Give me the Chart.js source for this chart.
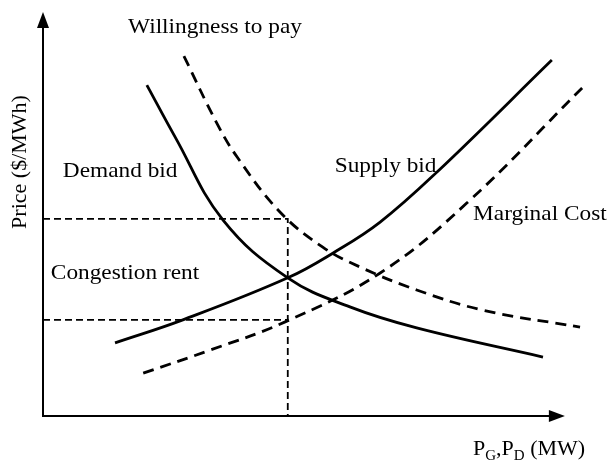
<!DOCTYPE html>
<html>
<head>
<meta charset="utf-8">
<script src="https://cdn.jsdelivr.net/npm/chart.js@4/dist/chart.umd.min.js"></script>
<style>
  html, body { margin: 0; padding: 0; background: #fff; }
  #wrap { width: 610px; height: 464px; }
</style>
</head>
<body>
<div id="wrap"><canvas id="market"></canvas></div>
<script>
// quantity (x) and price (y), arbitrary units
const demandBid = [[19.9, 81.9], [25.3, 69.1], [34.5, 48.5], [46.9, 34.2], [58.8, 27.0], [71.6, 21.8], [95.8, 14.6]];
const supplyBid = [[13.8, 18.1], [26.8, 23.8], [46.9, 34.2], [55.9, 40.6], [64.6, 48.0], [75.5, 60.4], [97.5, 88.1]];
const willingness = [[27.0, 89.1], [33.3, 72.5], [37.2, 64.1], [45.4, 50.5], [53.6, 41.8], [60.7, 36.9], [71.6, 31.2], [84.3, 26.2], [102.9, 22.0]];
const marginalCost = [[19.2, 10.6], [32.0, 16.3], [46.4, 23.3], [64.6, 35.4], [81.2, 52.7], [103.3, 81.2]];

// congestion rent box
const dispatchQ = 46.9;
const priceHigh = 48.8;
const priceLow = 23.8;

// axis extents (arrow tips)
const xAxisEnd = 100;
const yAxisEnd = 100;

const curveLabels = [
  { text: 'Willingness to pay', x: 16.3, y: 96.3 },
  { text: 'Demand bid', x: 3.8, y: 60.6 },
  { text: 'Supply bid', x: 55.9, y: 61.9 },
  { text: 'Marginal Cost', x: 82.4, y: 50.0 },
  { text: 'Congestion rent', x: 1.5, y: 35.4 },
];

const pts = (arr) => arr.map(([x, y]) => ({ x, y }));

const solid = { borderColor: '#000', borderWidth: 2.8, pointRadius: 0, tension: 0.4, fill: false };
const dashed = { ...solid, borderDash: [11, 7] };
const thin = { borderColor: '#000', borderWidth: 1.8, pointRadius: 0, tension: 0, borderDash: [7, 4], fill: false };

const font = '"Liberation Serif", "Times New Roman", serif';

const decor = {
  id: 'decor',
  afterDraw(chart) {
    const { ctx, scales } = chart;
    const xs = scales.x, ys = scales.y;
    const x0 = xs.getPixelForValue(0), y0 = ys.getPixelForValue(0);
    const xEnd = xs.getPixelForValue(xAxisEnd), yEnd = ys.getPixelForValue(yAxisEnd);
    ctx.save();
    ctx.strokeStyle = '#000';
    ctx.fillStyle = '#000';
    ctx.lineWidth = 2;
    ctx.beginPath();
    ctx.moveTo(x0, yEnd + 12);
    ctx.lineTo(x0, y0);
    ctx.lineTo(xEnd - 12, y0);
    ctx.stroke();
    // arrow heads
    ctx.beginPath();
    ctx.moveTo(x0, yEnd);
    ctx.lineTo(x0 - 6, yEnd + 16);
    ctx.lineTo(x0 + 6, yEnd + 16);
    ctx.closePath();
    ctx.fill();
    ctx.beginPath();
    ctx.moveTo(xEnd, y0);
    ctx.lineTo(xEnd - 16, y0 - 6);
    ctx.lineTo(xEnd - 16, y0 + 6);
    ctx.closePath();
    ctx.fill();

    ctx.font = '22px ' + font;
    ctx.textBaseline = 'middle';
    ctx.textAlign = 'left';
    curveLabels.forEach((l) => {
      ctx.save();
      ctx.translate(xs.getPixelForValue(l.x), ys.getPixelForValue(l.y));
      ctx.scale(1.06, 1);
      ctx.fillText(l.text, 0, 0);
      ctx.restore();
    });

    // y axis title
    ctx.save();
    ctx.translate(20, 162);
    ctx.rotate(-Math.PI / 2);
    ctx.textAlign = 'center';
    ctx.fillText('Price ($/MWh)', 0, 0);
    ctx.restore();

    // x axis title with subscripts
    let tx = 473;
    const ty = 455;
    ctx.textBaseline = 'alphabetic';
    const part = (s, sub) => {
      ctx.font = (sub ? '15px ' : '22px ') + font;
      ctx.fillText(s, tx, ty + (sub ? 5 : 0));
      tx += ctx.measureText(s).width;
    };
    part('P'); part('G', true); part(',P'); part('D', true); part(' (MW)');
    ctx.restore();
  },
};

new Chart(document.getElementById('market'), {
  type: 'line',
  data: {
    datasets: [
      { label: 'Demand bid', data: pts(demandBid), ...solid },
      { label: 'Supply bid', data: pts(supplyBid), ...solid },
      { label: 'Willingness to pay', data: pts(willingness), ...dashed },
      { label: 'Marginal Cost', data: pts(marginalCost), ...dashed },
      { label: 'high', data: [{ x: 0, y: priceHigh }, { x: dispatchQ, y: priceHigh }, { x: dispatchQ, y: 0 }], ...thin },
      { label: 'low', data: [{ x: 0, y: priceLow }, { x: dispatchQ, y: priceLow }], ...thin },
    ],
  },
  options: {
    responsive: true,
    maintainAspectRatio: false,
    animation: false,
    layout: { padding: { left: 43, right: 19, top: 12, bottom: 48 } },
    plugins: { legend: { display: false }, tooltip: { enabled: false } },
    scales: {
      x: { type: 'linear', min: 0, max: 105, display: false },
      y: { type: 'linear', min: 0, max: 100, display: false },
    },
  },
  plugins: [decor],
});
</script>
</body>
</html>
